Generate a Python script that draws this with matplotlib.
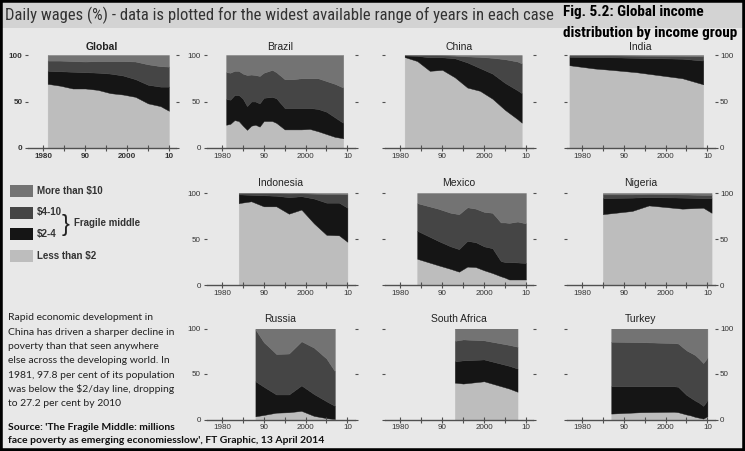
import matplotlib
matplotlib.use('Agg')
import matplotlib.pyplot as plt
from matplotlib import font_manager
from matplotlib.patches import Rectangle

W, H = 745, 451
BG = '#e8e8e8'
# bottom band first: less than $2, $2-4, $4-10, more than $10
BAND_COLORS = ['#bdbdbd', '#151515', '#454545', '#737373']
AXIS_GREY = '#505050'

# cumulative % of population living below each daily wage level
global_years = [1981, 1984, 1987, 1990, 1993, 1996, 1999, 2002, 2005, 2008, 2010]
global_below2 = [69, 67, 64, 64, 62.5, 59, 57.5, 55, 48, 45, 40]
global_below4 = [83, 82.5, 82, 81.5, 81, 80, 78, 74, 68, 66, 66]
global_below10 = [94, 94, 93.5, 93, 93.5, 93.5, 93.5, 93, 90, 88, 87.5]

brazil_years = [1981, 1982, 1983, 1984, 1985, 1986, 1987, 1988, 1989, 1990,
                1992, 1993, 1995, 1997, 1999, 2001, 2003, 2005, 2007, 2009]
brazil_below2 = [25, 26, 30, 29, 24, 19.5, 24, 25, 23, 29,
                 29, 27, 20, 20, 20, 20.5, 18, 15, 12, 10.5]
brazil_below4 = [52.5, 52, 57, 57, 53, 45, 50, 50, 48, 54,
                 55, 53.5, 43, 43, 43, 43, 42, 39, 33, 27]
brazil_below10 = [81.5, 81, 83, 83, 80, 78.5, 79, 78.5, 77.5, 81,
                  84, 81.5, 74, 74, 75, 75, 75, 72, 69, 65]

china_years = [1981, 1984, 1987, 1990, 1993, 1996, 1999, 2002, 2005, 2008, 2009]
china_below2 = [97.8, 93.5, 83, 84, 76, 65, 61.5, 53, 41, 31, 27.2]
china_below4 = [99.5, 99, 97.5, 97.5, 96.5, 92, 86, 80, 70, 62, 59]
china_below10 = [100, 100, 99.8, 99.6, 99.3, 98.5, 98, 97, 95.5, 93, 91]

india_years = [1977, 1983, 1987, 1993, 2004, 2009]
india_below2 = [89, 85.5, 84, 81.5, 75, 68.5]
india_below4 = [98, 97.8, 97.5, 97, 96, 94]
india_below10 = [99.5, 99.5, 99.5, 99.3, 99, 98.5]

indonesia_years = [1984, 1987, 1990, 1993, 1996, 1999, 2002, 2005, 2008, 2010]
indonesia_below2 = [89, 91, 85.5, 85.5, 77.5, 82, 67, 54.5, 54, 47]
indonesia_below4 = [98.5, 98, 97.5, 97, 95.5, 96.5, 94, 89.5, 89.5, 84]
indonesia_below10 = [99.8, 99.8, 99.8, 99.7, 99.5, 99.6, 99.3, 99, 99, 98.5]

mexico_years = [1984, 1989, 1992, 1994, 1996, 1998, 2000, 2002, 2004, 2005, 2006, 2008, 2010]
mexico_below2 = [28.5, 21.5, 17.5, 14.5, 20, 19.5, 16, 13, 9.5, 8, 6, 6, 6]
mexico_below4 = [59, 48, 42, 39, 48, 46.5, 42, 40, 26, 25, 25, 24.5, 24]
mexico_below10 = [89, 83, 78.5, 77, 84.5, 83, 79.5, 78.5, 68, 68, 67.5, 69, 67]

nigeria_years = [1985, 1992, 1996, 2004, 2009, 2011]
nigeria_below2 = [77, 80.5, 86.5, 83, 84, 78.5]
nigeria_below4 = [94.5, 95, 95.5, 95, 94.5, 94.5]
nigeria_below10 = [98.5, 98.5, 99, 98.5, 98, 98]

russia_years = [1988, 1990, 1993, 1996, 1999, 2002, 2005, 2007]
russia_below2 = [3.5, 5, 7.5, 8, 9.5, 4, 1.5, 0.5]
russia_below4 = [42, 36, 27.5, 27.5, 37.5, 28, 20, 15]
russia_below10 = [99, 85, 72, 72.5, 86, 79, 67, 53]

safrica_years = [1993, 1995, 2000, 2006, 2008]
safrica_below2 = [40.5, 39.5, 42, 34, 30.5]
safrica_below4 = [64, 65, 66, 59, 56]
safrica_below10 = [86.5, 88, 87, 82, 80]

turkey_years = [1987, 1994, 2002, 2003, 2005, 2006, 2007, 2008, 2009, 2010]
turkey_below2 = [6.5, 8, 8.5, 8, 5.5, 4.5, 3, 2, 1, 3.5]
turkey_below4 = [36.5, 36.5, 36.5, 36, 27, 24, 21, 18.5, 15, 21]
turkey_below10 = [85.5, 85, 84, 83.5, 76, 73.5, 71, 67, 62, 68]

legend_labels = ['More than $10', '$4-10', '$2-4', 'Less than $2']

note_lines = ["Rapid economic development in",
              "China has driven a sharper decline in",
              "poverty than that seen anywhere",
              "else across the developing world. In",
              "1981, 97.8 per cent of its population",
              "was below the $2/day line, dropping",
              "to 27.2 per cent by 2010"]
source_lines = ["Source: 'The Fragile Middle: millions",
                "face poverty as emerging economiesslow', FT Graphic, 13 April 2014"]

# name, data, grid position (row, col), side for y labels
panels = [
    ('Global', global_years, global_below2, global_below4, global_below10, 0, 0, 'left'),
    ('Brazil', brazil_years, brazil_below2, brazil_below4, brazil_below10, 0, 1, 'left'),
    ('China', china_years, china_below2, china_below4, china_below10, 0, 2, None),
    ('India', india_years, india_below2, india_below4, india_below10, 0, 3, 'right'),
    ('Indonesia', indonesia_years, indonesia_below2, indonesia_below4, indonesia_below10, 1, 1, 'left'),
    ('Mexico', mexico_years, mexico_below2, mexico_below4, mexico_below10, 1, 2, None),
    ('Nigeria', nigeria_years, nigeria_below2, nigeria_below4, nigeria_below10, 1, 3, 'right'),
    ('Russia', russia_years, russia_below2, russia_below4, russia_below10, 2, 1, 'left'),
    ('South Africa', safrica_years, safrica_below2, safrica_below4, safrica_below10, 2, 2, None),
    ('Turkey', turkey_years, turkey_below2, turkey_below4, turkey_below10, 2, 3, 'right'),
]

col_left = [28, 206.5, 385, 566.5]
row_top = [55, 193, 328.5]
row_bottom = [148, 285, 419.5]
panel_w = 148
title_gap = [8, 10, 9.5]

installed = {f.name for f in font_manager.fontManager.ttflist}


def pick(*names):
    for n in names:
        if n in installed:
            return n
    return 'DejaVu Sans'


NARROW = pick('Liberation Sans Narrow', 'Roboto Condensed', 'Open Sans Condensed',
              'DejaVu Sans Condensed', 'Roboto')
TITLE_FONT = pick('Liberation Sans Narrow', 'Roboto Condensed', 'Lato')


def fx(px):
    return px / W


def fy(py):
    return 1 - py / H


fig = plt.figure(figsize=(W / 100, H / 100), dpi=100, facecolor=BG)

# header band + frame
fig.add_artist(Rectangle((fx(2), fy(28)), fx(741), 25 / H, transform=fig.transFigure,
                         facecolor='#d3d3d3', edgecolor='none'))
fig.add_artist(Rectangle((0, 0), 1, 1, transform=fig.transFigure, fill=False,
                         edgecolor='black', lw=4))

for name, years, b2, b4, b10, r, c, side in panels:
    x0 = col_left[c]
    ax = fig.add_axes([fx(x0), fy(row_bottom[r]), panel_w / W,
                       (row_bottom[r] - row_top[r]) / H])
    ax.set_facecolor('none')
    ax.fill_between(years, 0, b2, color=BAND_COLORS[0], lw=0.3)
    ax.fill_between(years, b2, b4, color=BAND_COLORS[1], lw=0.3)
    ax.fill_between(years, b4, b10, color=BAND_COLORS[2], lw=0.3)
    ax.fill_between(years, b10, 100, color=BAND_COLORS[3], lw=0.3)
    ax.set_xlim(1976.3, 2011.7)
    ax.set_ylim(0, 100)
    for s in ['top', 'left', 'right']:
        ax.spines[s].set_visible(False)
    ax.spines['bottom'].set_color(AXIS_GREY)
    ax.spines['bottom'].set_linewidth(1)
    ax.set_xticks([1980, 1990, 2000, 2010])
    ax.set_xticklabels(['1980', '90', '2000', '10'])
    ax.set_xticks([1985, 1995, 2005], minor=True)
    ax.tick_params(axis='x', which='both', direction='inout', length=4, width=0.8,
                   color=AXIS_GREY, labelsize=5.8, labelcolor='#333333', pad=1.5)
    ax.set_yticks([0, 50, 100])
    ax.tick_params(axis='y', left=True, right=True, labelleft=(side == 'left'),
                   labelright=(side == 'right'), direction='out', length=2.5, width=0.8,
                   color=AXIS_GREY, labelsize=5.8, labelcolor='#333333', pad=1.5)
    for lab in ax.get_xticklabels() + ax.get_yticklabels():
        lab.set_family('Liberation Sans')
        if name == 'Global':
            lab.set_weight('bold')
    fig.text(fx(x0 + panel_w / 2), fy(row_top[r] - title_gap[r]), name,
             ha='center', va='center', fontsize=7.5, color='#222222',
             family='Liberation Sans', weight='bold' if name == 'Global' else 'normal')

# legend
legend_y = [191, 212.5, 234, 256]
legend_colors = BAND_COLORS[::-1]
for lab, yc, col in zip(legend_labels, legend_y, legend_colors):
    fig.add_artist(Rectangle((fx(10), fy(yc + 6)), 23 / W, 12 / H, transform=fig.transFigure,
                             facecolor=col, edgecolor='none'))
    fig.text(fx(37), fy(yc), lab, ha='left', va='center', fontsize=7, weight='bold',
             color='#333333', family='Liberation Sans')
fig.text(fx(62), fy(224.5), '}', ha='left', va='center', fontsize=17, color='#222222',
         family='Liberation Sans')
fig.text(fx(74), fy(223), 'Fragile middle', ha='left', va='center', fontsize=7,
         weight='bold', color='#333333', family='Liberation Sans')

# texts
header = fig.text(fx(5), fy(15.5), 'Daily wages (%) - data is plotted for the widest available '
                  'range of years in each case', ha='left', va='center', fontsize=9,
                  color='#333333', family=NARROW)
fig_t1 = fig.text(fx(563), fy(12), 'Fig. 5.2: Global income', ha='left', va='center',
                  fontsize=12, weight='bold', color='black', family=TITLE_FONT)
fig_t2 = fig.text(fx(563), fy(33), 'distribution by income group', ha='left', va='center',
                  fontsize=12, weight='bold', color='black', family=TITLE_FONT)

note = [fig.text(fx(8), fy(318 + i * 14.3), t, ha='left', va='center', fontsize=8,
                 color='#222222', family='Lato') for i, t in enumerate(note_lines)]
src = [fig.text(fx(8), fy(427 + i * 13.5), t, ha='left', va='center', fontsize=8,
                weight='bold', color='#111111', family='Lato') for i, t in enumerate(source_lines)]

# scale a few text blocks so they span the same width as in the original
fig.canvas.draw()
renderer = fig.canvas.get_renderer()


def fit(texts, ref, px):
    k = px / ref.get_window_extent(renderer).width
    for t in texts:
        t.set_fontsize(t.get_fontsize() * k)


fit([header], header, 550)
fit([fig_t1, fig_t2], fig_t2, 176)
fit(note, note[1], 168)
fit(src, src[1], 319)

fig.savefig('out.png', dpi=100, facecolor=BG)
